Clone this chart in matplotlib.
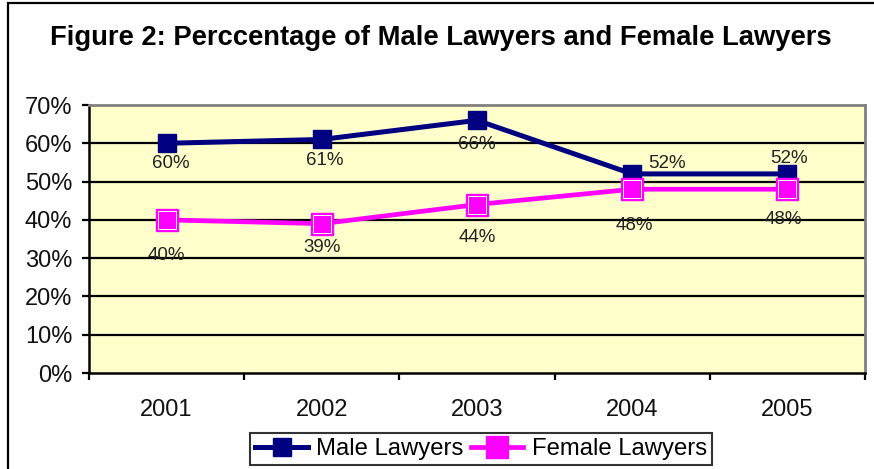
import matplotlib
matplotlib.use("Agg")
import matplotlib.pyplot as plt
from matplotlib.lines import Line2D
from matplotlib.ticker import FuncFormatter, FixedLocator

plt.rcParams["font.family"] = ["Liberation Sans", "DejaVu Sans"]

# Data
years = ["2001", "2002", "2003", "2004", "2005"]
male = [60, 61, 66, 52, 52]
female = [40, 39, 44, 48, 48]
male_labels = ["60%", "61%", "66%", "52%", "52%"]
female_labels = ["40%", "39%", "44%", "48%", "48%"]

title = "Figure 2: Perccentage of Male Lawyers and Female Lawyers"

# label offsets in pixels (Excel placed them oddly)
male_off = [(4, -20), (3, -21), (0, -24), (35, 10), (2, 15)]
female_off = [(0, -36), (0, -24), (0, -33), (2, -36), (-4, -30)]

navy = "#000080"
magenta = "#FF00FF"

W, H = 874, 469
fig = plt.figure(figsize=(W / 100, H / 100), dpi=100)
fig.patch.set_facecolor("white")

# outer chart frame: only top and left edges are inside the picture
fig.add_artist(Line2D([8 / W, 8 / W, 1.0], [0.0, 1 - 3 / H, 1 - 3 / H],
                      transform=fig.transFigure, color="black",
                      linewidth=1.6, solid_joinstyle="miter"))

fig.text(441 / W, 1 - 38 / H, title, ha="center", va="center",
         fontsize=19.7, fontweight="bold")

ax = fig.add_axes([89 / W, 1 - 373 / H, (865 - 89) / W, (373 - 105) / H])
ax.set_facecolor("#FFFFCC")

x = list(range(len(years)))
ax.set_xlim(-0.5, len(years) - 0.5)
ax.set_ylim(0, 70)

for v in range(10, 70, 10):
    ax.axhline(v, color="black", linewidth=1.6, zorder=1)

ax.plot(x, male, color=navy, linewidth=3.6, marker="s", markersize=13,
        markerfacecolor=navy, markeredgecolor=navy, zorder=3,
        label="Male Lawyers")
ax.plot(x, female, color=magenta, linewidth=3.4, marker="s", markersize=15.5,
        markerfacecolor=magenta, markeredgecolor=magenta, zorder=4,
        label="Female Lawyers")
ax.plot(x, female, linestyle="none", marker="s", markersize=12.5,
        markerfacecolor="none", markeredgecolor="white",
        markeredgewidth=0.7, zorder=5)

for xi, v, lab, off in zip(x, male, male_labels, male_off):
    ax.annotate(lab, (xi, v), xytext=off, textcoords="offset pixels",
                ha="center", va="center", fontsize=13.5, color="#222222",
                zorder=6)
for xi, v, lab, off in zip(x, female, female_labels, female_off):
    ax.annotate(lab, (xi, v), xytext=off, textcoords="offset pixels",
                ha="center", va="center", fontsize=13.5, color="#222222",
                zorder=6)

# axes styling
ax.set_yticks(range(0, 71, 10))
ax.yaxis.set_major_formatter(FuncFormatter(lambda v, p: f"{v:.0f}%"))
ax.xaxis.set_major_locator(FixedLocator([i - 0.5 for i in range(len(years) + 1)]))
ax.xaxis.set_major_formatter(FuncFormatter(lambda v, p: ""))
ax.xaxis.set_minor_locator(FixedLocator(x))
ax.set_xticklabels(years, minor=True)
ax.tick_params(axis="x", which="major", direction="out", length=5, width=1.6)
ax.tick_params(axis="x", which="minor", length=0, pad=19, labelsize=17,
               labelcolor="#111111")
ax.tick_params(axis="y", direction="out", length=5, width=1.6, pad=7,
               labelsize=17, labelcolor="#111111")

for side in ["left", "bottom"]:
    ax.spines[side].set_color("black")
    ax.spines[side].set_linewidth(1.8)
for side in ["top", "right"]:
    ax.spines[side].set_color("#808080")
    ax.spines[side].set_linewidth(2)

leg = fig.legend(loc="lower center", bbox_to_anchor=(481 / W, 4 / H),
                 ncol=2, fontsize=17.2, frameon=True, fancybox=False,
                 handlelength=2.2, handletextpad=0.35, columnspacing=0.3,
                 borderpad=0.2, borderaxespad=0)
leg.get_frame().set_edgecolor("black")
leg.get_frame().set_linewidth(1.5)

fig.savefig("out.png", dpi=100)
